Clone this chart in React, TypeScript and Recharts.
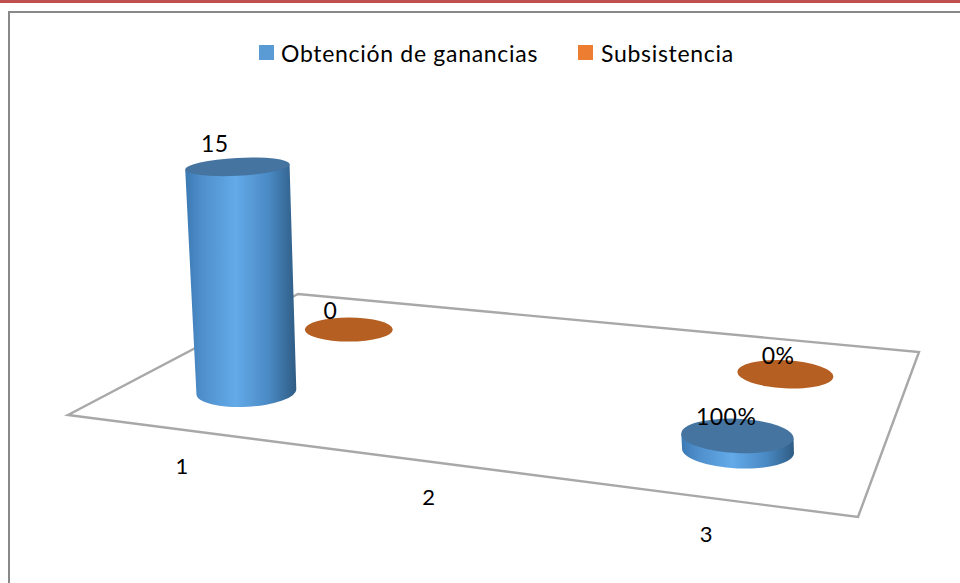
import React from "react";
import { BarChart, Bar, XAxis, YAxis, Legend, LabelList, Customized } from "recharts";

// Chart values
const categories = ["1", "2", "3"];
const obtencion: (number | null)[] = [15, null, 1];
const subsistencia: (number | null)[] = [0, null, 0];
const obtencionLabels = ["15", "", "100%"];
const subsistenciaLabels = ["0", "", "0%"];
const seriesNames = ["Obtención de ganancias", "Subsistencia"];

const rows = categories.map((category, i) => ({
  category,
  obtencion: obtencion[i],
  subsistencia: subsistencia[i],
  obtencionLabel: obtencionLabels[i],
  subsistenciaLabel: subsistenciaLabels[i],
}));

const WIDTH = 960;
const HEIGHT = 583;
const FONT = "Lato, 'Open Sans', sans-serif";
const BLUE = "#5b9bd5";
const ORANGE = "#ed7d31";

// Corners of the oblique floor the cylinders stand on
const FL = [68, 415];
const FR = [858, 517];
const BL = [298, 294];
const BR = [919, 352];
const FRONT_ROW = 0.3;
const BACK_ROW = 0.79;

const project = (u: number, v: number) => {
  const fx = FL[0] + (FR[0] - FL[0]) * u;
  const fy = FL[1] + (FR[1] - FL[1]) * u;
  const bx = BL[0] + (BR[0] - BL[0]) * u;
  const by = BL[1] + (BR[1] - BL[1]) * u;
  return { x: fx + (bx - fx) * v, y: fy + (by - fy) * v };
};

// Category band position on the chart width, squeezed onto the floor's width
const toU = (cx: number) => (cx / WIDTH) * 0.9975 - 0.0183;
const rowU = (cx: number, depth: number) => toU(cx) + (depth === BACK_ROW ? 0.003 : 0);

// Ellipse size and tilt shrink with depth and grow toward the right
const blend = (a: number, b: number, c: number, d: number, u: number, v: number) => {
  const s = (u - 0.15) / 0.66;
  const r = (v - FRONT_ROW) / (BACK_ROW - FRONT_ROW);
  return (a + (b - a) * s) * (1 - r) + (c + (d - c) * s) * r;
};

const Cylinder = (depth: number) => (props: any) => {
  const { x, width, height, value } = props;
  if (value == null) return null;
  const u = rowU(x + width / 2, depth);
  const base = project(u, depth);
  const rx = blend(50, 56, 44, 48, u, depth);
  const ry = blend(15, 17.5, 12, 14, u, depth);
  const tilt = blend(-3, 2.5, 0, 3, u, depth);

  if (height <= 0.5) {
    return (
      <ellipse
        cx={base.x}
        cy={base.y}
        rx={rx}
        ry={ry}
        fill="#b55f22"
        transform={`rotate(${tilt} ${base.x} ${base.y})`}
      />
    );
  }

  const lean = height * 0.04;
  const top = { x: base.x - lean, y: base.y - height };
  const rxTop = rx + height * 0.01;
  const ryTop = ry - height * 0.027;
  const rad = (tilt * Math.PI) / 180;
  const cos = Math.cos(rad);
  const sin = Math.sin(rad);
  const side = [
    `M${top.x - rxTop * cos} ${top.y - rxTop * sin}`,
    `L${base.x - rx * cos} ${base.y - rx * sin}`,
    `A${rx} ${ry} ${tilt} 0 0 ${base.x + rx * cos} ${base.y + rx * sin}`,
    `L${top.x + rxTop * cos} ${top.y + rxTop * sin}`,
    "Z",
  ].join(" ");
  return (
    <g>
      <path d={side} fill="url(#cylinderSide)" />
      <ellipse
        cx={top.x}
        cy={top.y}
        rx={rxTop}
        ry={ryTop}
        fill="#44749f"
        transform={`rotate(${tilt} ${top.x} ${top.y})`}
      />
    </g>
  );
};

const ValueLabel = (depth: number) => (props: any) => {
  const { x, width, height, value } = props;
  if (!value) return null;
  const u = rowU(x + width / 2, depth);
  const base = project(u, depth);
  const h = height > 0.5 ? height : 0;
  const lean = h * 0.04;
  const dx = -21 + (u - 0.15) * 17 + (depth === BACK_ROW ? 2.5 : -1.5);
  return (
    <text
      x={base.x - lean + dx}
      y={base.y - h - 19 - h * 0.018}
      dy="0.36em"
      textAnchor="middle"
      fontFamily={FONT}
      fontSize={23}
      letterSpacing={0.5}
      fill="#000"
    >
      {value}
    </text>
  );
};

// Small per-category shift of the axis numbers below the floor's front edge
const TICK_SHIFT_X = [-3, -19, -4];
const TICK_SHIFT_Y = [0, -3, 0];

const CategoryTick = (props: any) => {
  const { x, payload, index } = props;
  const edge = project(toU(x), 0);
  return (
    <text
      x={edge.x + TICK_SHIFT_X[index]}
      y={edge.y + 36 + TICK_SHIFT_Y[index]}
      dy="0.36em"
      textAnchor="middle"
      fontFamily={FONT}
      fontSize={22}
      fill="#000"
    >
      {payload.value}
    </text>
  );
};

const Floor = () => (
  <polygon
    points={[FL, BL, BR, FR].map((p) => p.join(",")).join(" ")}
    fill="#fff"
    stroke="#a8a8a8"
    strokeWidth={2.4}
  />
);

const LegendRow = ({ payload }: any) => {
  const lefts = [
    { swatch: 259, text: 281 },
    { swatch: 578, text: 601 },
  ];
  return (
    <div style={{ position: "relative", width: WIDTH, height: 30 }}>
      {(payload || []).map((entry: any, i: number) => (
        <React.Fragment key={entry.value}>
          <span
            style={{
              position: "absolute",
              left: lefts[i].swatch,
              top: 0,
              width: 15,
              height: 15,
              background: entry.color,
            }}
          />
          <span
            style={{
              position: "absolute",
              left: lefts[i].text,
              top: -5,
              fontFamily: FONT,
              fontSize: 23,
              lineHeight: "26px",
              letterSpacing: 0.7,
              color: "#000",
              whiteSpace: "nowrap",
            }}
          >
            {entry.value}
          </span>
        </React.Fragment>
      ))}
    </div>
  );
};

export default function App() {
  return (
    <div
      style={{
        position: "absolute",
        left: 0,
        top: 0,
        width: WIDTH,
        height: HEIGHT,
        overflow: "hidden",
        background: "#fff",
      }}
    >
      <div style={{ position: "absolute", left: 0, top: 0, width: WIDTH, height: 3, background: "#c0504d" }} />
      <div
        style={{
          position: "absolute",
          left: 8,
          top: 11,
          width: WIDTH + 20,
          height: HEIGHT + 20,
          borderLeft: "2px solid #898989",
          borderTop: "2px solid #898989",
        }}
      />
      <BarChart
        width={WIDTH}
        height={HEIGHT}
        data={rows}
        margin={{ top: 100, right: 0, bottom: 257, left: 0 }}
        barSize={20}
        barGap={-20}
        style={{ position: "absolute", left: 0, top: 0 }}
      >
        <defs>
          <linearGradient id="cylinderSide" x1="0" y1="0" x2="1" y2="0">
            <stop offset="0" stopColor="#3b79b3" />
            <stop offset="0.15" stopColor="#4f8fcb" />
            <stop offset="0.45" stopColor="#63aae9" />
            <stop offset="0.75" stopColor="#4a8ac4" />
            <stop offset="1" stopColor="#2f5c84" />
          </linearGradient>
        </defs>
        <Customized component={Floor} />
        <XAxis
          dataKey="category"
          height={1}
          axisLine={false}
          tickLine={false}
          interval={0}
          tick={CategoryTick}
        />
        <YAxis hide domain={[0, 15]} />
        <Legend
          layout="horizontal"
          verticalAlign="middle"
          content={LegendRow}
          wrapperStyle={{ left: 0, top: 45, width: WIDTH, margin: 0 }}
        />
        <Bar
          dataKey="subsistencia"
          name={seriesNames[1]}
          fill={ORANGE}
          shape={Cylinder(BACK_ROW)}
          isAnimationActive={false}
        >
          <LabelList dataKey="subsistenciaLabel" content={ValueLabel(BACK_ROW)} />
        </Bar>
        <Bar
          dataKey="obtencion"
          name={seriesNames[0]}
          fill={BLUE}
          shape={Cylinder(FRONT_ROW)}
          isAnimationActive={false}
        >
          <LabelList dataKey="obtencionLabel" content={ValueLabel(FRONT_ROW)} />
        </Bar>
      </BarChart>
    </div>
  );
}
